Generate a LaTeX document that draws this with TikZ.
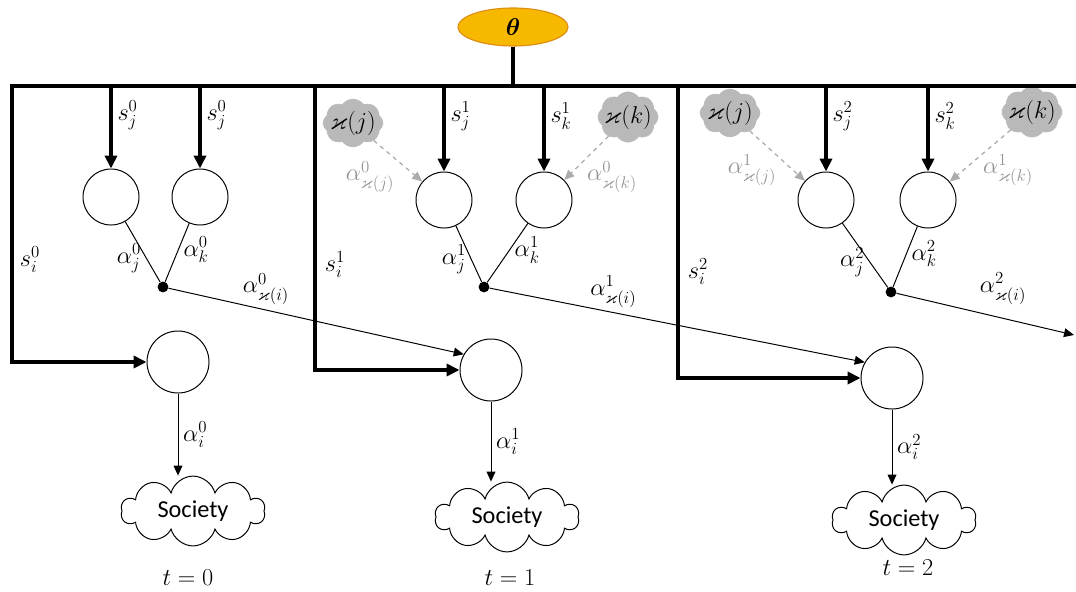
\documentclass[tikz,border=0pt]{standalone}
\usepackage{amsmath, amssymb}
\usepackage{fontspec}
\newfontfamily\calibri{Carlito}
\usepackage{tikz}
\usetikzlibrary{arrows.meta}
\usetikzlibrary{shapes.geometric, shapes.symbols}
\definecolor{thetafill}{RGB}{247,184,0}
\definecolor{thetaline}{RGB}{222,140,20}
\tikzstyle{bus} = [line width=2.6pt]
\tikzstyle{busarrow} = [-{Triangle[length=3.2mm, width=3mm]}, line width=2.6pt]
\tikzstyle{arrow} = [-{Triangle[length=2.5mm, width=2.2mm]}, line width=0.7pt]
\tikzstyle{link} = [line width=0.7pt]
\tikzstyle{agent} = [draw, circle, line width=0.7pt, minimum size=1.4cm]
\tikzstyle{player} = [draw, circle, line width=0.7pt, minimum size=1.55cm]
\tikzstyle{joint} = [circle, fill=black, inner sep=0pt, minimum size=0.27cm]
\tikzstyle{society} = [draw, cloud, cloud puffs=10, aspect=2.2,
	line width=0.7pt,
	minimum width=3.6cm,
	minimum height=1.6cm,
	inner sep=1pt, font=\calibri\LARGE]
\tikzstyle{neigh} = [cloud, cloud puffs=8, cloud puff arc=110, aspect=1.3,
	fill=gray!55, draw=gray!55,
	inner sep=-3pt,
	minimum width=1.5cm,
	minimum height=1.1cm]
\tikzstyle{past} = [-{Triangle[length=2.5mm, width=2.2mm]}, gray!65, dashed, line width=0.9pt]
\tikzstyle{pastlabel} = [text=gray!85]

\begin{document}
\begin{tikzpicture}[x=0.025cm, y=-0.025cm, font=\LARGE]
	\useasboundingbox (0,0) rectangle (1076,591);
	
	\node (theta)[ellipse, fill=thetafill, draw=thetaline, line width=0.8pt,
		minimum width=2.75cm, minimum height=0.95cm] at (513,27) {$\boldsymbol{\theta}$};
	\coordinate (busL) at (12,86);
	\coordinate (busR) at (1076,86);
	\coordinate (b1) at (315,86);
	\coordinate (b2) at (678,86);
	\coordinate (out) at (1074,335);
	
	% t = 0
	\node (j0)[agent] at (111,197) {};
	\node (k0)[agent] at (200,197) {};
	\node (d0)[joint] at (163,287) {};
	\node (i0)[player] at (178,362) {};
	\node (soc0)[society] at (193,511) {Society};
	\node (t0) at (188,578) {$t = 0$};
	\node (si0) at (30,260) {$s_i^0$};
	
	% t = 1
	\node (kj1)[neigh] at (353,123) {$\varkappa(j)$};
	\node (kk1)[neigh] at (628,117) {$\varkappa(k)$};
	\node (j1)[agent] at (444,200) {};
	\node (k1)[agent] at (544,200) {};
	\node (d1)[joint] at (484,287) {};
	\node (i1)[player] at (491,370) {};
	\node (soc1)[society] at (507,517) {Society};
	\node (t1) at (510,578) {$t = 1$};
	\node (si1) at (335,265) {$s_i^1$};
	\node (lpj1)[pastlabel] at (370,177) {$\alpha^0_{\varkappa(j)}$};
	\node (lpk1)[pastlabel] at (612,177) {$\alpha^0_{\varkappa(k)}$};
	
	% t = 2
	\node (kj2)[neigh] at (730,113) {$\varkappa(j)$};
	\node (kk2)[neigh] at (1032,112) {$\varkappa(k)$};
	\node (j2)[agent] at (826,200) {};
	\node (k2)[agent] at (928,200) {};
	\node (d2)[joint] at (891,292) {};
	\node (i2)[player] at (892,378) {};
	\node (soc2)[society] at (904,520) {Society};
	\node (t2) at (908,568) {$t = 2$};
	\node (si2) at (698,272) {$s_i^2$};
	\node (lpj2)[pastlabel] at (752,170) {$\alpha^1_{\varkappa(j)}$};
	\node (lpk2)[pastlabel] at (1008,170) {$\alpha^1_{\varkappa(k)}$};
	
	\draw [bus] (theta) -- (theta |- busL);
	\draw [busarrow] (busR) -- (busL) |- (i0);
	\draw [busarrow] (b1) |- (i1);
	\draw [busarrow] (b2) |- (i2);
	
	\draw [busarrow] (j0 |- busL) -- (j0) node [pos=0.35, right] (lsj0) {$s_j^0$};
	\draw [busarrow] (k0 |- busL) -- (k0) node [pos=0.35, right] (lsk0) {$s_j^0$};
	\draw [link] (j0) -- (d0) node [pos=0.6, left] (laj0) {$\alpha_j^0$};
	\draw [link] (k0) -- (d0) node [pos=0.45, right] (lak0) {$\alpha_k^0$};
	\draw [arrow] (d0) -- (i1.150) node [pos=0.33, above] (lan0) {$\alpha^0_{\varkappa(i)}$};
	\draw [arrow] (i0) -- (i0 |- soc0.north) node [midway, right] (lai0) {$\alpha_i^0$};
	
	\draw [busarrow] (j1 |- busL) -- (j1) node [pos=0.35, right] (lsj1) {$s_j^1$};
	\draw [busarrow] (k1 |- busL) -- (k1) node [pos=0.35, right] (lsk1) {$s_k^1$};
	\draw [past] (kj1) -- (j1);
	\draw [past] (kk1) -- (k1);
	\draw [link] (j1) -- (d1) node [pos=0.6, left] (laj1) {$\alpha_j^1$};
	\draw [link] (k1) -- (d1) node [pos=0.45, right] (lak1) {$\alpha_k^1$};
	\draw [arrow] (d1) -- (i2.150) node [pos=0.33, above] (lan1) {$\alpha^1_{\varkappa(i)}$};
	\draw [arrow] (i1) -- (i1 |- soc1.north) node [midway, right] (lai1) {$\alpha_i^1$};
	
	\draw [busarrow] (j2 |- busL) -- (j2) node [pos=0.35, right] (lsj2) {$s_j^2$};
	\draw [busarrow] (k2 |- busL) -- (k2) node [pos=0.35, right] (lsk2) {$s_k^2$};
	\draw [past] (kj2) -- (j2);
	\draw [past] (kk2) -- (k2);
	\draw [link] (j2) -- (d2) node [pos=0.6, left] (laj2) {$\alpha_j^2$};
	\draw [link] (k2) -- (d2) node [pos=0.45, right] (lak2) {$\alpha_k^2$};
	\draw [arrow] (d2) -- (out) node [pos=0.6, above=6pt] (lan2) {$\alpha^2_{\varkappa(i)}$};
	\draw [arrow] (i2) -- (i2 |- soc2.north) node [midway, right] (lai2) {$\alpha_i^2$};
\end{tikzpicture}
\end{document}
